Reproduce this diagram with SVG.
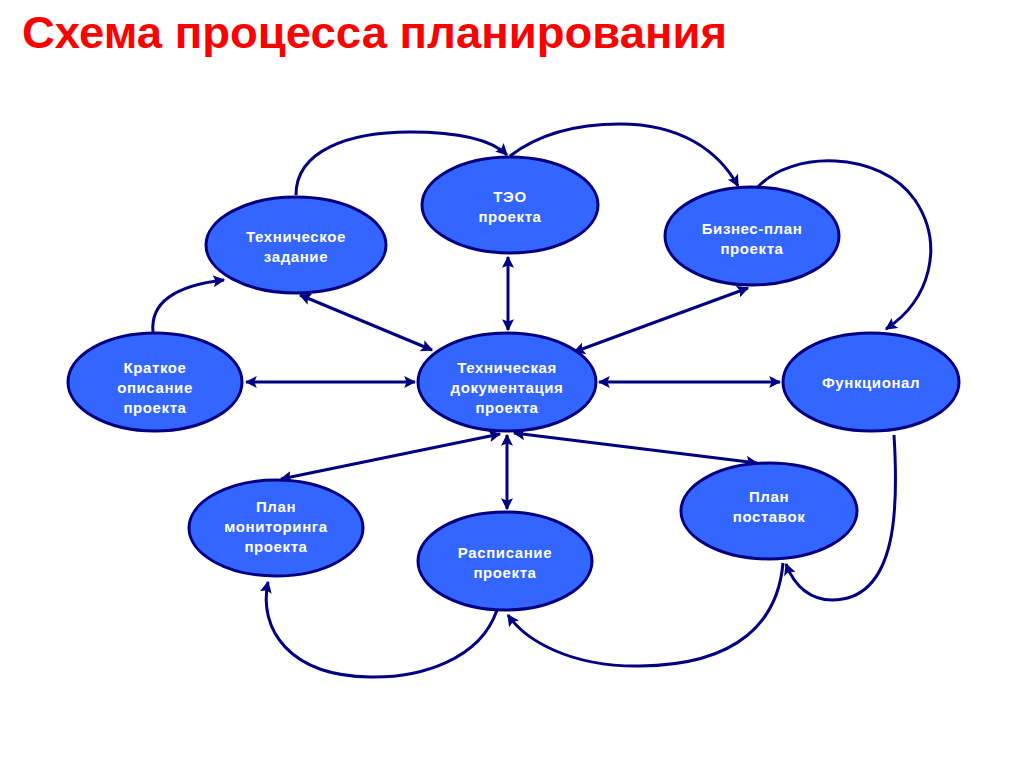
<svg xmlns="http://www.w3.org/2000/svg" width="1024" height="767" viewBox="0 0 1024 767">
<style>
.n{fill:#3366ff;stroke:#000080;stroke-width:3}
.t{fill:#fff;font-family:"Liberation Sans",Arial,sans-serif;font-weight:bold;font-size:15px;letter-spacing:0.6px;text-anchor:middle}
.c{fill:none;stroke:#000080;stroke-width:3}
.e{marker-end:url(#a)}
.b{marker-start:url(#s);marker-end:url(#a)}
</style>
<defs>
<marker id="a" viewBox="0 0 10 10" refX="9" refY="5" markerWidth="4" markerHeight="4" orient="auto" markerUnits="strokeWidth"><path d="M0,0 L10,5 L0,10 L2,5 z" fill="#000080"/></marker>
<marker id="s" viewBox="0 0 10 10" refX="1" refY="5" markerWidth="4" markerHeight="4" orient="auto" markerUnits="strokeWidth"><path d="M10,0 L0,5 L10,10 L8,5 z" fill="#000080"/></marker>
</defs>
<rect width="1024" height="767" fill="#fff"/>
<text x="22" y="48" fill="#ff0000" font-family="'Liberation Sans',Arial,sans-serif" font-weight="bold" font-size="45" textLength="705" lengthAdjust="spacingAndGlyphs">Схема процесса планирования</text>
<g id="connectors">
<path class="c b" d="M246,382 L415,382"/>
<path class="c b" d="M599,382 L780,382"/>
<path class="c b" d="M508,257 L508,330"/>
<path class="c b" d="M507,435 L507,509"/>
<path class="c b" d="M300,295 L432,350"/>
<path class="c b" d="M748,288 L574,352"/>
<path class="c b" d="M500,434 L281,479"/>
<path class="c b" d="M514,433 L757,463"/>
<path class="c e" d="M296,195 C296,150 350,132 410,132 C460,132 492,140 507,155"/>
<path class="c e" d="M510,156 C540,133 580,124 620,124 C680,124 718,150 738,186"/>
<path class="c e" d="M757,188 C790,150 880,150 915,200 C945,245 930,300 886,329"/>
<path class="c e" d="M153,332 C150,300 180,285 224,280"/>
<path class="c e" d="M894,435 C898,500 900,600 832,600 C812,600 795,588 786,564"/>
<path class="c e" d="M497,610 C480,660 420,678 370,677 C290,676 258,630 268,582"/>
<path class="c e" d="M783,563 C778,620 740,665 640,666 C570,667 525,640 508,615"/>
</g>
<g id="n1"><ellipse class="n" cx="296" cy="245" rx="90" ry="48"/><text class="t" x="296" y="242">Техническое</text><text class="t" x="296" y="262">задание</text></g>
<g id="n2"><ellipse class="n" cx="510" cy="205" rx="88" ry="48"/><text class="t" x="510" y="202">ТЭО</text><text class="t" x="510" y="222">проекта</text></g>
<g id="n3"><ellipse class="n" cx="752" cy="236" rx="87" ry="49"/><text class="t" x="752" y="234">Бизнес-план</text><text class="t" x="752" y="254">проекта</text></g>
<g id="n4"><ellipse class="n" cx="155" cy="382" rx="87" ry="49"/><text class="t" x="155" y="373">Краткое</text><text class="t" x="155" y="393">описание</text><text class="t" x="155" y="413">проекта</text></g>
<g id="n5"><ellipse class="n" cx="507" cy="382" rx="89" ry="49"/><text class="t" x="507" y="373">Техническая</text><text class="t" x="507" y="393">документация</text><text class="t" x="507" y="413">проекта</text></g>
<g id="n6"><ellipse class="n" cx="871" cy="382" rx="88" ry="49"/><text class="t" x="871" y="388">Функционал</text></g>
<g id="n7"><ellipse class="n" cx="276" cy="528" rx="87" ry="48"/><text class="t" x="276" y="512">План</text><text class="t" x="276" y="532">мониторинга</text><text class="t" x="276" y="552">проекта</text></g>
<g id="n8"><ellipse class="n" cx="505" cy="561" rx="87" ry="49"/><text class="t" x="505" y="558">Расписание</text><text class="t" x="505" y="578">проекта</text></g>
<g id="n9"><ellipse class="n" cx="769" cy="511" rx="88" ry="48"/><text class="t" x="769" y="502">План</text><text class="t" x="769" y="522">поставок</text></g>
</svg>
